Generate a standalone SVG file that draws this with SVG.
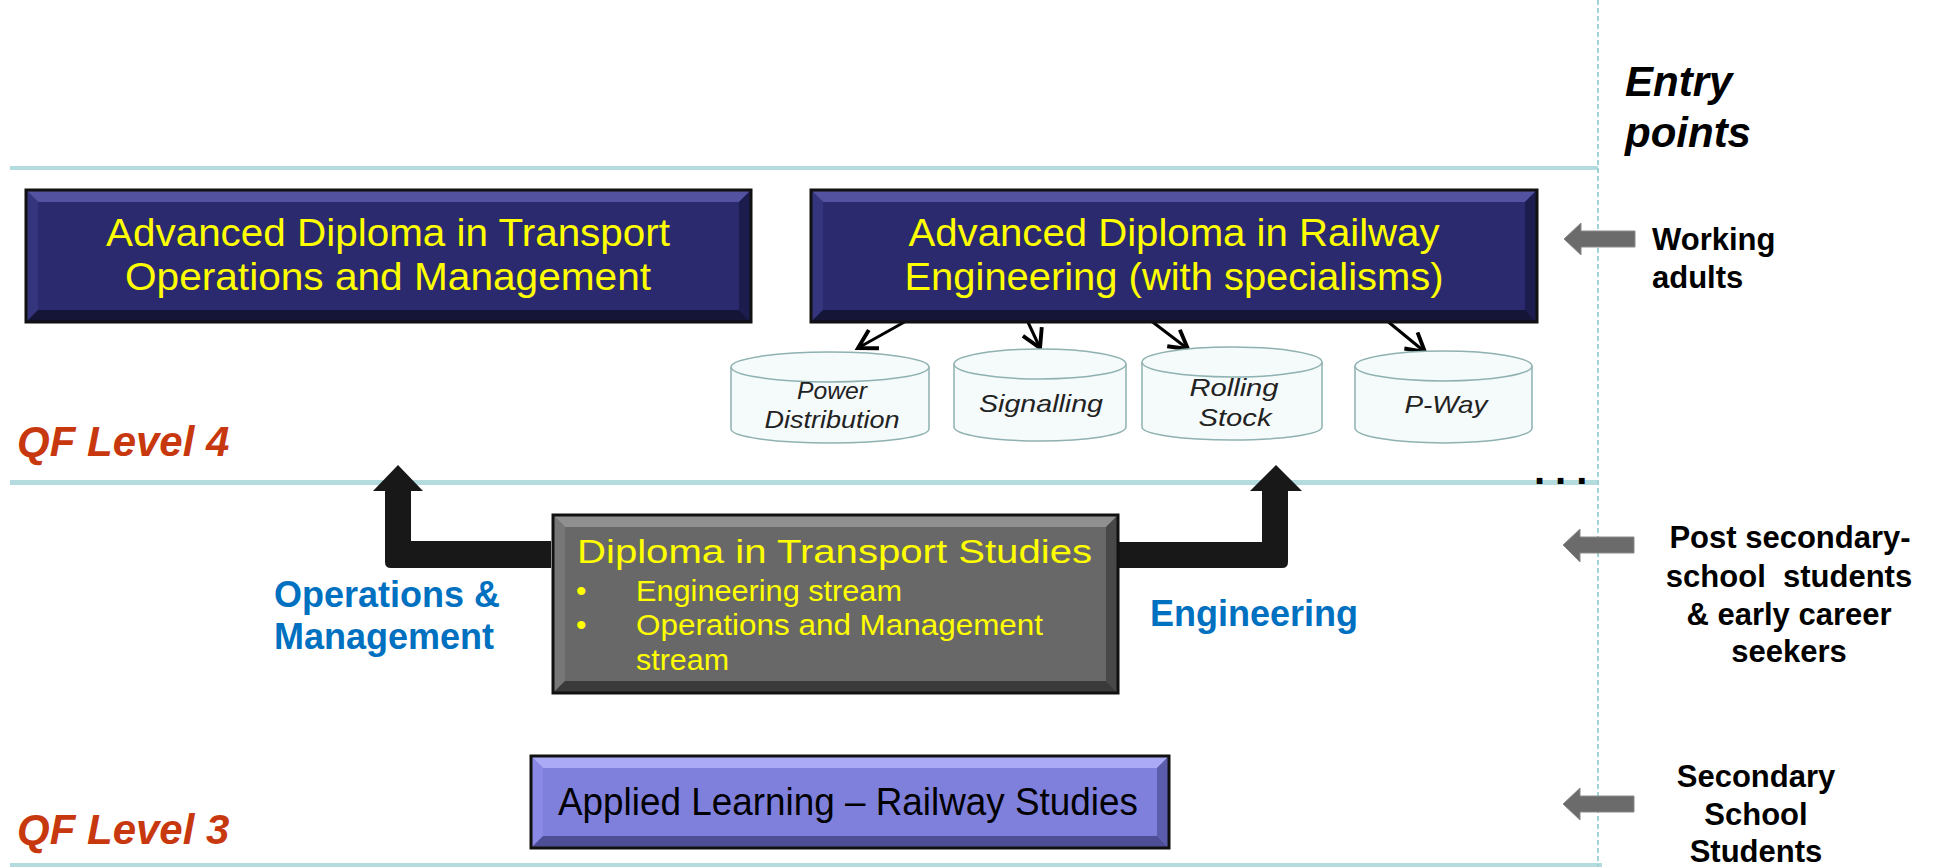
<svg xmlns="http://www.w3.org/2000/svg" width="1937" height="867" viewBox="0 0 1937 867">
<style>
.teal{fill:#b4dcdf}
.vdash{stroke:#9fd3d8;stroke-width:2;stroke-dasharray:5 3;fill:none}
.nf{fill:#2b2a6e}.nt{fill:#5252a0}.nl{fill:#35357e}.nr{fill:#1c1c4e}.nb{fill:#151538}
.gf{fill:#686868}.gt{fill:#909090}.gl{fill:#777777}.gr{fill:#484848}.gb{fill:#3a3a3a}
.pf{fill:#7f7fdc}.pt{fill:#aaaaf6}.pl{fill:#8a8ae6}.pr{fill:#5c5cad}.pb{fill:#4e4e96}
.edge{fill:none;stroke:#111;stroke-width:3}
.seg{font-family:"Liberation Sans",Arial,sans-serif}
.yel{fill:#ffff00}
.cyl{fill:#f5fafa;stroke:#8fb1b1;stroke-width:1.5}
.ctext{font-family:"Liberation Sans",Arial,sans-serif;font-style:italic;font-size:24px;fill:#222;text-anchor:middle}
.qf{font-family:"Liberation Sans",Arial,sans-serif;font-weight:bold;font-style:italic;font-size:42px;fill:#c8380f}
.entry{font-family:"Liberation Sans",Arial,sans-serif;font-weight:bold;font-style:italic;font-size:42px;fill:#000}
.who{font-family:"Liberation Sans",Arial,sans-serif;font-weight:bold;font-size:31px;fill:#000}
.blue{font-family:"Liberation Sans",Arial,sans-serif;font-weight:bold;font-size:36px;fill:#0070c0}
.garrow{fill:#6b6b6b;stroke:#8a8a8a;stroke-width:1}
.bigarrow{fill:#181818}
.thin{stroke:#000;stroke-width:3;fill:none}
</style>
<defs>
<marker id="vhead" markerUnits="userSpaceOnUse" markerWidth="26" markerHeight="26" viewBox="0 0 20 20" refX="17" refY="10" orient="auto">
<path d="M3,2 L17,10 L3,18" fill="none" stroke="#000" stroke-width="3" stroke-linejoin="miter"/>
</marker>
</defs>

<g id="grid">
<rect class="teal" x="10" y="166" width="1588" height="4"/>
<rect class="teal" x="10" y="480" width="1588" height="5"/>
<rect class="teal" x="10" y="863" width="1592" height="4"/>
<line class="vdash" x1="1598" y1="0" x2="1598" y2="867"/>
<text x="1534" y="484" font-family="Liberation Sans, Arial, sans-serif" font-weight="bold" font-size="40" letter-spacing="10">...</text>
</g>

<g id="labels">
<text class="entry" x="1625" y="96">Entry</text>
<text class="entry" x="1625" y="147">points</text>
<text class="qf" x="17" y="456">QF Level 4</text>
<text class="qf" x="17" y="844">QF Level 3</text>
</g>

<g id="connectors">
<path class="bigarrow" d="M551,541 L411,541 L411,491 L423,491 L398,465 L373,491 L385,491 L385,562 Q385,568 391,568 L551,568 Z"/>
<path class="bigarrow" d="M1118,542 L1262,542 L1262,491 L1250,491 L1276,465 L1302,491 L1288,491 L1288,562 Q1288,568 1282,568 L1118,568 Z"/>
<line class="thin" x1="908" y1="320" x2="858" y2="348" marker-end="url(#vhead)"/>
<line class="thin" x1="1027" y1="320" x2="1040" y2="348" marker-end="url(#vhead)"/>
<line class="thin" x1="1150" y1="320" x2="1188" y2="349" marker-end="url(#vhead)"/>
<line class="thin" x1="1386" y1="320" x2="1425" y2="352" marker-end="url(#vhead)"/>
<path class="garrow" d="M1564,239 L1581,223 L1581,231 L1635,231 L1635,247 L1581,247 L1581,255 Z"/>
<path class="garrow" d="M1563,545 L1580,529 L1580,537 L1634,537 L1634,553 L1580,553 L1580,562 Z"/>
<path class="garrow" d="M1563,804 L1580,788 L1580,796 L1634,796 L1634,812 L1580,812 L1580,820 Z"/>
</g>

<g id="adv-transport">
<rect class="nf" x="26" y="190" width="725" height="132"/>
<polygon class="nt" points="26,190 751,190 739,202 38,202"/>
<polygon class="nl" points="26,190 38,202 38,310 26,322"/>
<polygon class="nr" points="751,190 751,322 739,310 739,202"/>
<polygon class="nb" points="26,322 751,322 739,310 38,310"/>
<rect class="edge" x="26" y="190" width="725" height="132"/>
<text class="seg yel" font-size="38" x="388" y="246" text-anchor="middle" textLength="564" lengthAdjust="spacingAndGlyphs">Advanced Diploma in Transport</text>
<text class="seg yel" font-size="38" x="388" y="290" text-anchor="middle" textLength="526" lengthAdjust="spacingAndGlyphs">Operations and Management</text>
</g>

<g id="adv-railway">
<rect class="nf" x="811" y="190" width="726" height="132"/>
<polygon class="nt" points="811,190 1537,190 1525,202 823,202"/>
<polygon class="nl" points="811,190 823,202 823,310 811,322"/>
<polygon class="nr" points="1537,190 1537,322 1525,310 1525,202"/>
<polygon class="nb" points="811,322 1537,322 1525,310 823,310"/>
<rect class="edge" x="811" y="190" width="726" height="132"/>
<text class="seg yel" font-size="38" x="1174" y="246" text-anchor="middle" textLength="531" lengthAdjust="spacingAndGlyphs">Advanced Diploma in Railway</text>
<text class="seg yel" font-size="38" x="1174" y="290" text-anchor="middle" textLength="539" lengthAdjust="spacingAndGlyphs">Engineering (with specialisms)</text>
</g>

<g id="power">
<path class="cyl" d="M731,367 L731,429 A99,14 0 0 0 929,429 L929,367"/>
<ellipse class="cyl" cx="830" cy="367" rx="99" ry="15"/>
<text class="ctext" x="832" y="399" textLength="70" lengthAdjust="spacingAndGlyphs">Power</text>
<text class="ctext" x="832" y="428" textLength="135" lengthAdjust="spacingAndGlyphs">Distribution</text>
</g>
<g id="signalling">
<path class="cyl" d="M954,364 L954,427 A86,14 0 0 0 1126,427 L1126,364"/>
<ellipse class="cyl" cx="1040" cy="364" rx="86" ry="15"/>
<text class="ctext" x="1041" y="412" textLength="124" lengthAdjust="spacingAndGlyphs">Signalling</text>
</g>
<g id="rolling">
<path class="cyl" d="M1142,362 L1142,427 A90,13 0 0 0 1322,427 L1322,362"/>
<ellipse class="cyl" cx="1232" cy="362" rx="90" ry="15"/>
<text class="ctext" x="1234" y="396" textLength="89" lengthAdjust="spacingAndGlyphs">Rolling</text>
<text class="ctext" x="1235" y="426" textLength="73" lengthAdjust="spacingAndGlyphs">Stock</text>
</g>
<g id="pway">
<path class="cyl" d="M1355,366 L1355,428 A88.5,15 0 0 0 1532,428 L1532,366"/>
<ellipse class="cyl" cx="1443.5" cy="366" rx="88.5" ry="15"/>
<text class="ctext" x="1446" y="413" textLength="83" lengthAdjust="spacingAndGlyphs">P-Way</text>
</g>

<g id="diploma">
<rect class="gf" x="553" y="515" width="565" height="178"/>
<polygon class="gt" points="553,515 1118,515 1106,527 565,527"/>
<polygon class="gl" points="553,515 565,527 565,681 553,693"/>
<polygon class="gr" points="1118,515 1118,693 1106,681 1106,527"/>
<polygon class="gb" points="553,693 1118,693 1106,681 565,681"/>
<rect class="edge" x="553" y="515" width="565" height="178"/>
<text class="seg yel" font-size="33" x="577" y="563" textLength="515" lengthAdjust="spacingAndGlyphs">Diploma in Transport Studies</text>
<text class="seg yel" font-size="30" x="576" y="601">•</text>
<text class="seg yel" font-size="29" x="636" y="601" textLength="266" lengthAdjust="spacingAndGlyphs">Engineering stream</text>
<text class="seg yel" font-size="30" x="576" y="635">•</text>
<text class="seg yel" font-size="29" x="636" y="635" textLength="407" lengthAdjust="spacingAndGlyphs">Operations and Management</text>
<text class="seg yel" font-size="29" x="636" y="670" textLength="93" lengthAdjust="spacingAndGlyphs">stream</text>
</g>

<g id="applied">
<rect class="pf" x="531" y="756" width="638" height="92"/>
<polygon class="pt" points="531,756 1169,756 1157,768 543,768"/>
<polygon class="pl" points="531,756 543,768 543,836 531,848"/>
<polygon class="pr" points="1169,756 1169,848 1157,836 1157,768"/>
<polygon class="pb" points="531,848 1169,848 1157,836 543,836"/>
<rect class="edge" x="531" y="756" width="638" height="92"/>
<text class="seg" font-size="38" fill="#000" x="558" y="815" textLength="580" lengthAdjust="spacingAndGlyphs">Applied Learning – Railway Studies</text>
</g>

<g id="stream-labels">
<text class="blue" x="274" y="607">Operations &amp;</text>
<text class="blue" x="274" y="649">Management</text>
<text class="blue" x="1150" y="626">Engineering</text>
</g>

<g id="entry-who">
<text class="who" x="1652" y="250">Working</text>
<text class="who" x="1652" y="288">adults</text>
<text class="who" x="1790" y="548" text-anchor="middle">Post secondary-</text>
<text class="who" x="1789" y="587" text-anchor="middle" xml:space="preserve">school  students</text>
<text class="who" x="1789" y="625" text-anchor="middle">&amp; early career</text>
<text class="who" x="1789" y="662" text-anchor="middle">seekers</text>
<text class="who" x="1756" y="787" text-anchor="middle">Secondary</text>
<text class="who" x="1756" y="825" text-anchor="middle">School</text>
<text class="who" x="1756" y="862" text-anchor="middle">Students</text>
</g>
</svg>
